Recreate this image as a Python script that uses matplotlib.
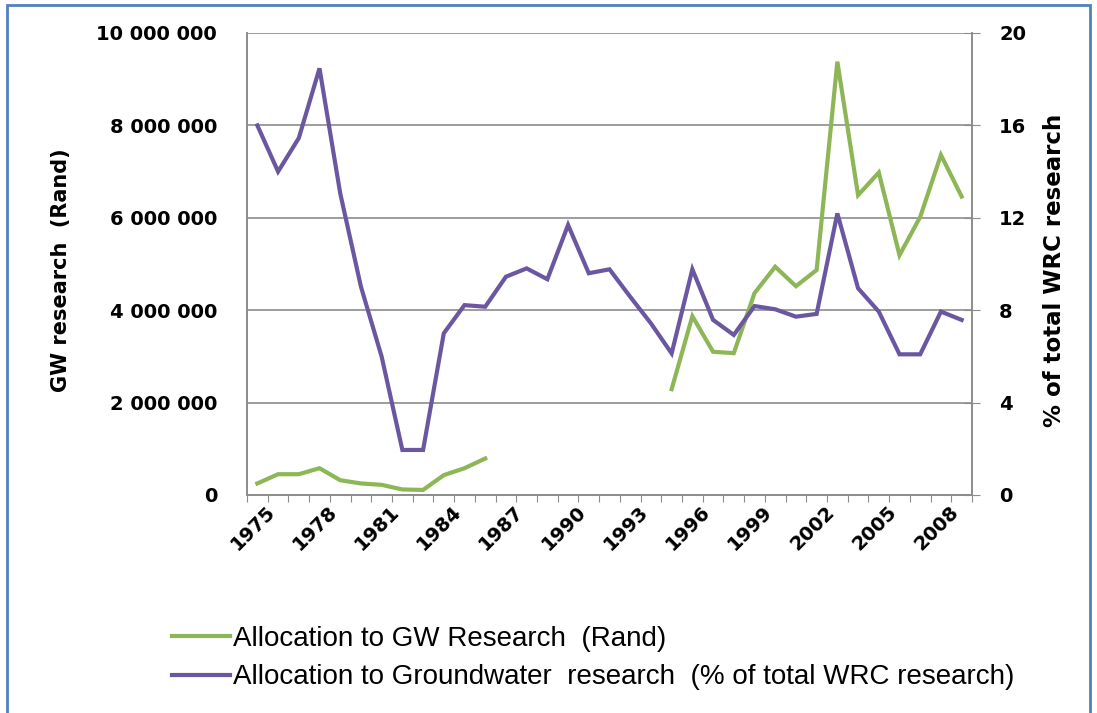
import numpy as np
import matplotlib
matplotlib.use("Agg")
import matplotlib.pyplot as plt
from matplotlib.lines import Line2D
from matplotlib.patches import Rectangle
from matplotlib.ticker import FuncFormatter, FixedLocator
import matplotlib.transforms as mtrans

years = list(range(1975, 2010))
# Allocation to GW research (Rand); None = no data
rand_vals = [250000, 450000, 450000, 580000, 320000, 250000, 220000, 120000, 110000, 430000,
             580000, 790000, None, None, None, None, None, None, None, None,
             2290000, 3870000, 3100000, 3070000, 4370000, 4940000, 4520000, 4870000, 9380000, 6490000,
             6980000, 5190000, 6020000, 7360000, 6460000]
# Allocation to groundwater research (% of total WRC research)
pct_vals = [16.0, 14.0, 15.45, 18.47, 13.06, 9.02, 5.99, 1.95, 1.95, 7.0,
            8.22, 8.15, 9.45, 9.81, 9.34, 11.69, 9.6, 9.77, 8.58, 7.43,
            6.13, 9.77, 7.58, 6.93, 8.18, 8.04, 7.72, 7.84, 12.19, 8.95,
            7.94, 6.09, 6.09, 7.94, 7.58]
label_years = list(range(1975, 2010, 3))
left_ticks = [0, 2000000, 4000000, 6000000, 8000000, 10000000]
right_ticks = [0, 4, 8, 12, 16, 20]

green = "#8DB656"
purple = "#6B57A1"
grid_c = "#8C8C8C"
bold_font = ["DejaVu Sans"]

W, H = 1097, 713
plt.rcParams["font.family"] = ["Liberation Sans", "DejaVu Sans"]
fig = plt.figure(figsize=(W / 100, H / 100), dpi=100)
fig.patch.set_facecolor("white")

# blue frame around figure
fig.patches.append(Rectangle((7 / W, -0.05), (1090 - 7) / W, 1 - 5 / H + 0.05,
                             transform=fig.transFigure, fill=False,
                             edgecolor="#4F81BD", linewidth=2.0, zorder=0))

x0, x1, ytop, ybot = 247, 972, 33, 495
ax = fig.add_axes([x0 / W, 1 - ybot / H, (x1 - x0) / W, (ybot - ytop) / H])
ax2 = ax.twinx()

x = np.arange(len(years))
rv = np.array([np.nan if v is None else v for v in rand_vals], dtype=float)
ax.plot(x, rv, color=green, lw=3.0, solid_joinstyle="miter", zorder=3)
ax2.plot(x, pct_vals, color=purple, lw=3.0, solid_joinstyle="miter", zorder=3)

ax.set_xlim(-0.5, len(years) - 0.5)
ax.set_ylim(0, 10000000)
ax2.set_ylim(0, 20)

ax.set_yticks(left_ticks)
ax.yaxis.set_major_formatter(FuncFormatter(lambda v, p: f"{int(v):,}".replace(",", " ")))
ax2.set_yticks(right_ticks)

ax.grid(axis="y", color=grid_c, lw=1.2)
ax.set_axisbelow(True)

# x ticks: marks between categories, labels every 3 years
ax.xaxis.set_major_locator(FixedLocator(np.arange(-0.5, len(years), 1.0)))
ax.tick_params(axis="x", which="major", length=5, color=grid_c, labelbottom=False)
ax.xaxis.set_minor_locator(FixedLocator([years.index(y) for y in label_years]))
ax.set_xticklabels([str(y) for y in label_years], minor=True, rotation=45,
                   ha="right", va="top", fontsize=14, fontweight="bold",
                   family=bold_font)
ax.tick_params(axis="x", which="minor", length=0, pad=5.0)
offset = mtrans.ScaledTranslation(8 / 100, 0, fig.dpi_scale_trans)
for lbl in ax.get_xticklabels(minor=True):
    lbl.set_rotation_mode("anchor")
    lbl.set_transform(lbl.get_transform() + offset)

ax.tick_params(axis="y", length=0, pad=21.5, labelsize=14)
for lbl in ax.get_yticklabels():
    lbl.set_fontweight("bold")
    lbl.set_family(bold_font)
ax2.tick_params(axis="y", direction="inout", length=12, color=grid_c, pad=13.5, labelsize=14)
for lbl in ax2.get_yticklabels():
    lbl.set_fontweight("bold")
    lbl.set_family(bold_font)

for a in (ax, ax2):
    for s in a.spines.values():
        s.set_color(grid_c)
        s.set_linewidth(1.2)
    a.spines["top"].set_visible(False)

ax.set_ylabel("GW research  (Rand)", fontsize=15, fontweight="bold", family=bold_font)
ax2.set_ylabel("% of total WRC research", fontsize=16.5, fontweight="bold", family=bold_font)
ax.yaxis.label.set_va("center")
ax2.yaxis.label.set_va("center")
ax.yaxis.set_label_coords((61 - x0) / (x1 - x0), (ybot - 270) / (ybot - ytop))
ax2.yaxis.set_label_coords((1054 - x0) / (x1 - x0), (ybot - 270) / (ybot - ytop))

handles = [Line2D([], [], color=green, lw=3.0), Line2D([], [], color=purple, lw=3.0)]
fig.legend(handles,
           ["Allocation to GW Research  (Rand)",
            "Allocation to Groundwater  research  (% of total WRC research)"],
           loc="upper left", bbox_to_anchor=(172 / W, 1 - 626 / H),
           frameon=False, fontsize=20, handlelength=2.09, handletextpad=0.1,
           labelspacing=0.45, borderaxespad=0, borderpad=0)

fig.savefig("out.png", dpi=100, facecolor="white")
